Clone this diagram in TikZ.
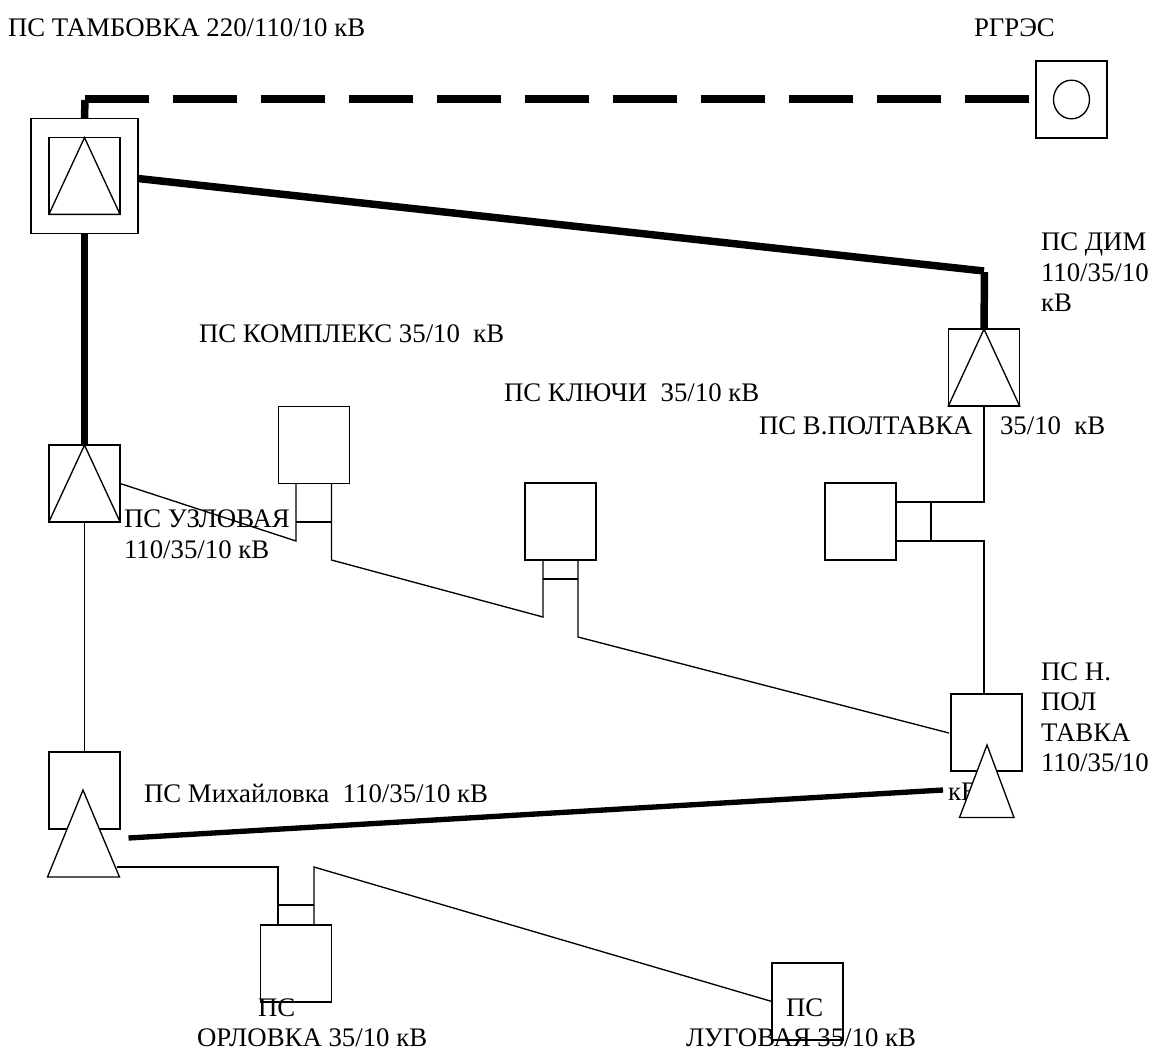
\documentclass[tikz,border=0pt]{standalone}
\usepackage{fontspec}
\setmainfont{Liberation Serif}
\usetikzlibrary{positioning,calc,shapes.geometric}
\tikzset{
  sub/.style={draw,rectangle,line width=1pt,minimum width=53.4pt,minimum height=57.6pt,inner sep=0pt,outer sep=0pt},
  thin line/.style={line width=1pt},
  heavy line/.style={line width=5.6pt},
  txt/.style={anchor=base west,inner sep=0pt,outer sep=0pt,font=\fontsize{20.1}{20}\selectfont},
}

\begin{document}
\begin{tikzpicture}[x=0.75pt,y=-0.75pt]
\useasboundingbox (0,0) rectangle (1154,1051);

% substations
\node[sub,minimum width=80.2pt,minimum height=86.5pt] (tamb) at (84.5,176) {};
\node[sub] (tambin) at (84.5,176) {};
\node[sub] (rgres) at (1071.5,99.5) {};
\node[draw,ellipse,line width=1pt,minimum width=27pt,minimum height=29pt,inner sep=0pt] (rgresin) at (rgres) {};
\node[sub] (uzl) at (84.5,483.5) {};
\node[sub] (dim) at (984,367.5) {};
\node[sub] (kompl) at (314,445) {};
\node[sub] (kluch) at (560.5,521.5) {};
\node[sub] (polt) at (860.5,521.5) {};
\node[sub] (npolt) at (986.5,732.5) {};
\node[sub] (mikh) at (84.5,790.5) {};
\node[sub] (orl) at (296,963.5) {};
\node[sub] (lug) at (807.5,1001.5) {};
\node[txt] (l9e) at (948,800) {кВ};

% triangles
\draw[thin line] (tambin.north) -- (tambin.south west) -- (tambin.south east) -- cycle;
\draw[thin line] (uzl.north) -- (uzl.south west) -- (uzl.south east) -- cycle;
\draw[thin line] (dim.north) -- (dim.south west) -- (dim.south east) -- cycle;
\coordinate (ta) at (987,745);
\coordinate (tb) at (959.5,817.5);
\coordinate (tc) at (1014,817.5);
\draw[thin line,fill=white] (ta) -- (tb) -- (tc) -- cycle;
\coordinate (ma) at (83,790);
\coordinate (mb) at (47.5,877);
\coordinate (mc) at (119.5,877);
\draw[thin line,fill=white] (ma) -- (mb) -- (mc) -- cycle;

% heavy lines
\coordinate (d0) at (85,100);
\coordinate (d1) at (85,99);
\coordinate (d2) at (1029.5,99);
\coordinate (k0) at (984.5,272);
\coordinate (k1) at (984,271);
\coordinate (m1) at (128.5,838);
\coordinate (m2) at (943,790);
\coordinate (t1) at (138,178.5);
\draw[heavy line] (tamb.north) -- (d0);
\draw[heavy line,dash pattern=on 48pt off 18pt] (d1) -- (d2);
\draw[heavy line] (t1) -- (k1);
\draw[heavy line] (k0) -- (dim.north);
\draw[heavy line] (tamb.south) -- (uzl.north);
\draw[line width=4pt] (m1) -- (m2);

% thin lines
\coordinate (a1) at (296,541);
\coordinate (a2) at (331.5,560);
\coordinate (a3) at (543,617);
\coordinate (a4) at (578,637);
\coordinate (a5) at (949,733);
\draw[thin line] (uzl.east) -- (a1) -- (296,483);
\draw[thin line] (296,522) -- (331.5,522);
\draw[thin line] (331.5,483) -- (a2) -- (a3) -- (543,560);
\draw[thin line] (543,579) -- (578,579);
\draw[thin line] (578,560) -- (a4) -- (a5);
\draw[thin line] (dim.south) -- (984,502) -- (896,502);
\draw[thin line] (931,502) -- (931,541);
\draw[thin line] (896,541) -- (984,541) -- (984,694);
\draw[thin line] (uzl.south) -- (mikh.north);
\coordinate (o1) at (278,867);
\coordinate (o2) at (314,867);
\draw[thin line] (117,867) -- (o1) -- (278,925);
\draw[thin line] (278,905) -- (314,905);
\draw[thin line] (314,925) -- (o2) -- (lug.west);

% labels
\node[txt] (l1) at (8,36) {ПС ТАМБОВКА 220/110/10 кВ};
\node[txt] (l2) at (974,36) {РГРЭС};
\node[txt] (l3) at (1041,250) {ПС ДИМ};
\node[txt] (l3b) at (1041,281) {110/35/10};
\node[txt] (l3c) at (1041,311) {кВ};
\node[txt] (l4) at (199,342) {ПС КОМПЛЕКС 35/10\ \ кВ};
\node[txt] (l5) at (504,401) {ПС КЛЮЧИ\ \ 35/10 кВ};
\node[txt] (l6) at (759,434) {ПС В.ПОЛТАВКА};
\node[txt] (l6b) at (1000,434) {35/10\ \ кВ};
\node[txt] (l7) at (124,527) {ПС УЗЛОВАЯ};
\node[txt] (l7b) at (124,558) {110/35/10 кВ};
\node[txt] (l8) at (144,802) {ПС Михайловка\ \ 110/35/10 кВ};
\node[txt] (l9) at (1041,680) {ПС Н.};
\node[txt] (l9b) at (1041,710) {ПОЛ};
\node[txt] (l9c) at (1041,741) {ТАВКА};
\node[txt] (l9d) at (1041,771) {110/35/10};
\node[txt] (l10) at (258,1016) {ПС};
\node[txt] (l10b) at (197,1046) {ОРЛОВКА 35/10 кВ};
\node[txt] (l11) at (786,1016) {ПС};
\node[txt] (l11b) at (686,1046) {ЛУГОВАЯ 35/10 кВ};
\end{tikzpicture}
\end{document}
